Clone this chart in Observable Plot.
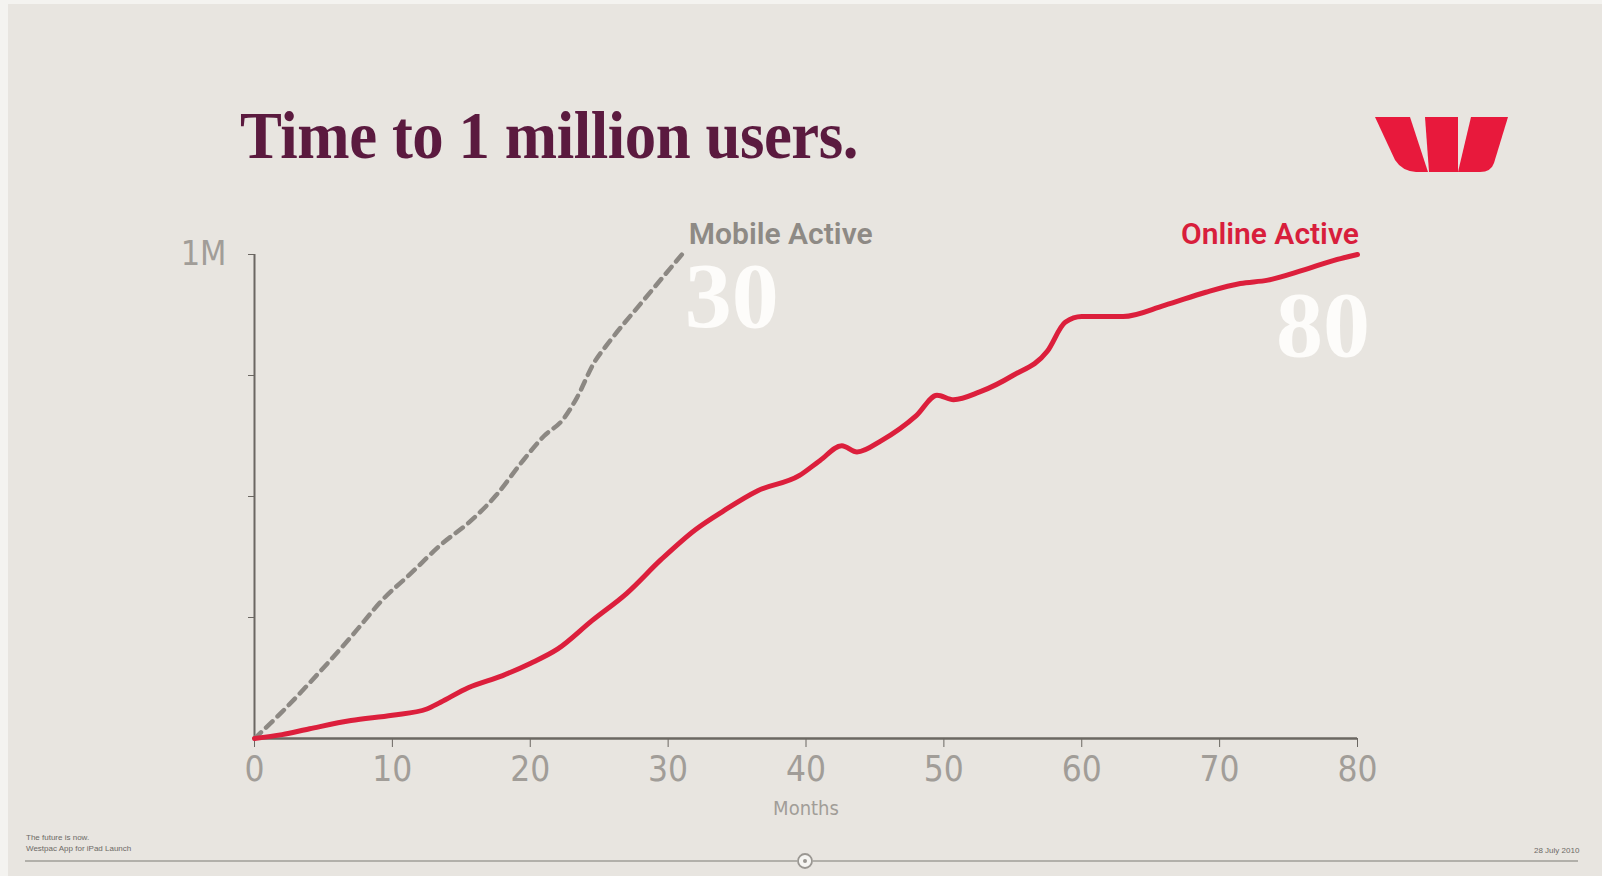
<!DOCTYPE html>
<html>
<head>
<meta charset="utf-8">
<script src="https://cdn.jsdelivr.net/npm/d3@7"></script>
<script src="https://cdn.jsdelivr.net/npm/@observablehq/plot@0.6"></script>
<style>
  html, body { margin: 0; padding: 0; background: #f4f3f0; }
  #page { position: relative; width: 1602px; height: 876px; overflow: hidden; background: #f4f3f0; }
  #panel { position: absolute; left: 8px; top: 4px; right: 0; bottom: 0; background: #e8e5e0; }
  #title { position: absolute; left: 240px; top: 96px; font-family: "Liberation Serif", "DejaVu Serif", serif; font-weight: 700; font-size: 68px; color: #5b1a3f; white-space: nowrap; transform-origin: 0 0; letter-spacing: -0.5px; }
  #chart { position: absolute; left: 0; top: 190px; }
  #logo { position: absolute; left: 0; top: 0; }
  .foot { position: absolute; font-family: "Liberation Sans", Arial, sans-serif; font-size: 8px; color: #6d6a66; white-space: nowrap; }
</style>
</head>
<body>
<div id="page">
  <div id="panel"></div>
  <div id="title">Time to 1 million users.</div>
  <svg id="logo" width="1602" height="876" style="pointer-events:none">
    <path d="M1375,117 L1410,117 L1428,172 L1416,172 Q1402,171 1395,160 Z" fill="#e8193c"/>
    <path d="M1425,117 L1458,117 L1458,172 L1429,172 Z" fill="#e8193c"/>
    <path d="M1471,117 L1508,117 L1494,163 Q1491,172 1480,172 L1458,172 Z" fill="#e8193c"/>
    <line x1="25" y1="861" x2="797" y2="861" stroke="#a19e99" stroke-width="1.5"/>
    <line x1="813" y1="861" x2="1578" y2="861" stroke="#a19e99" stroke-width="1.5"/>
    <circle cx="805" cy="861" r="7" fill="#f6f5f2" stroke="#9a9792" stroke-width="1.8"/>
    <circle cx="805" cy="861" r="2" fill="#9a9792"/>
  </svg>
  <div id="chart"></div>
  <div class="foot" style="left:26px; top:833px;">The future is now.</div>
  <div class="foot" style="left:26px; top:844px;">Westpac App for iPad Launch</div>
  <div class="foot" style="left:1534px; top:846px;">28 July 2010</div>
</div>
<script>
// Months since launch and users (millions)
const mobileMonths = [0, 2, 4, 7, 9.4, 11.3, 13.5, 15.7, 17.6, 19.3, 21, 22.4, 23.4, 24.6, 25.8, 28, 31];
const mobileUsers  = [0, 0.055, 0.115, 0.21, 0.29, 0.34, 0.40, 0.45, 0.505, 0.568, 0.625, 0.66, 0.705, 0.775, 0.822, 0.898, 1.0];

const onlineMonths = [0, 2, 4, 7, 10, 12.5, 13.5, 15.5, 18, 20, 22, 24.5, 27, 29.5, 32, 34, 36.5, 39.5, 41, 42.6, 43.7, 45.5, 48, 49.5, 50.7, 52.6, 55, 57.5, 58.8, 60, 63, 66, 69, 71.5, 73.5, 76, 78.3, 80];
const onlineUsers  = [0, 0.008, 0.02, 0.037, 0.048, 0.061, 0.075, 0.105, 0.13, 0.155, 0.185, 0.244, 0.30, 0.37, 0.432, 0.47, 0.512, 0.543, 0.574, 0.605, 0.592, 0.616, 0.667, 0.709, 0.70, 0.716, 0.75, 0.80, 0.86, 0.872, 0.872, 0.895, 0.922, 0.94, 0.947, 0.967, 0.988, 1.0];

const xTicks = [0, 10, 20, 30, 40, 50, 60, 70, 80];
const yTicks = [0.25, 0.5, 0.75, 1];

const mobileLabel = [{name: "Mobile Active", month: 31.5, users: 1.042}];
const onlineLabel = [{name: "Online Active", month: 80.1, users: 1.042}];
const mobileNumber = [{label: "30", month: 31.2, users: 0.912}];
const onlineNumber = [{label: "80", month: 80.9, users: 0.852}];

const mobile = mobileMonths.map((m, i) => ({month: m, users: mobileUsers[i]}));
const online = onlineMonths.map((m, i) => ({month: m, users: onlineUsers[i]}));

const axisFont = '"Liberation Sans Narrow", "DejaVu Sans Condensed", "Roboto", sans-serif';
const serif = '"Liberation Serif", "DejaVu Serif", serif';
const labelFont = '"Roboto", "Open Sans", sans-serif';

const chart = Plot.plot({
  width: 1602,
  height: 640,
  marginLeft: 254,
  marginRight: 245,
  marginTop: 64,
  marginBottom: 92,
  style: {background: "transparent", fontFamily: axisFont, color: "#6b6762", overflow: "visible"},
  x: {domain: [0, 80]},
  y: {domain: [0, 1]},
  marks: [
    Plot.axisX({ticks: xTicks, tickSize: 9, tickPadding: 9, fontSize: 35, fontWeight: 300, tickFormat: d => String(d), label: null, stroke: "#6b6762", fill: "#a19d98"}),
    Plot.axisY({ticks: yTicks, tickSize: 6, tickPadding: 22, fontSize: 34, fontWeight: 300, tickFormat: d => d === 1 ? "1M" : "", label: null, stroke: "#6b6762", fill: "#a19d98"}),
    Plot.ruleX([0], {y1: 0, y2: 1, stroke: "#6b6762", strokeWidth: 2}),
    Plot.ruleY([0], {x1: 0, x2: 80, stroke: "#6b6762", strokeWidth: 2.5}),
    Plot.text(["Months"], {frameAnchor: "bottom", dy: 76, fontSize: 20, fill: "#a19d98", fontFamily: axisFont}),
    Plot.text(mobileNumber, {x: "month", y: "users", text: "label", textAnchor: "start", fontSize: 94, fontWeight: 700, fill: "#fdfcfa", fontFamily: serif}),
    Plot.text(onlineNumber, {x: "month", y: "users", text: "label", textAnchor: "end", fontSize: 94, fontWeight: 700, fill: "#fdfcfa", fontFamily: serif}),
    Plot.line(mobile, {x: "month", y: "users", stroke: "#8c8883", strokeWidth: 4.5, strokeDasharray: "9,7", curve: "monotone-x"}),
    Plot.line(online, {x: "month", y: "users", stroke: "#dc1f3c", strokeWidth: 5, curve: "monotone-x"}),
    Plot.text(mobileLabel, {x: "month", y: "users", text: "name", textAnchor: "start", fill: "#8e8a85", fontSize: 30, fontWeight: 600, fontFamily: labelFont}),
    Plot.text(onlineLabel, {x: "month", y: "users", text: "name", textAnchor: "end", fill: "#d81e3c", fontSize: 30, fontWeight: 600, fontFamily: labelFont})
  ]
});
document.getElementById("chart").appendChild(chart);

// fit title width to the reference span
const t = document.getElementById("title");
const w = t.getBoundingClientRect().width;
t.style.transform = `scaleX(${618 / w})`;
</script>
</body>
</html>
